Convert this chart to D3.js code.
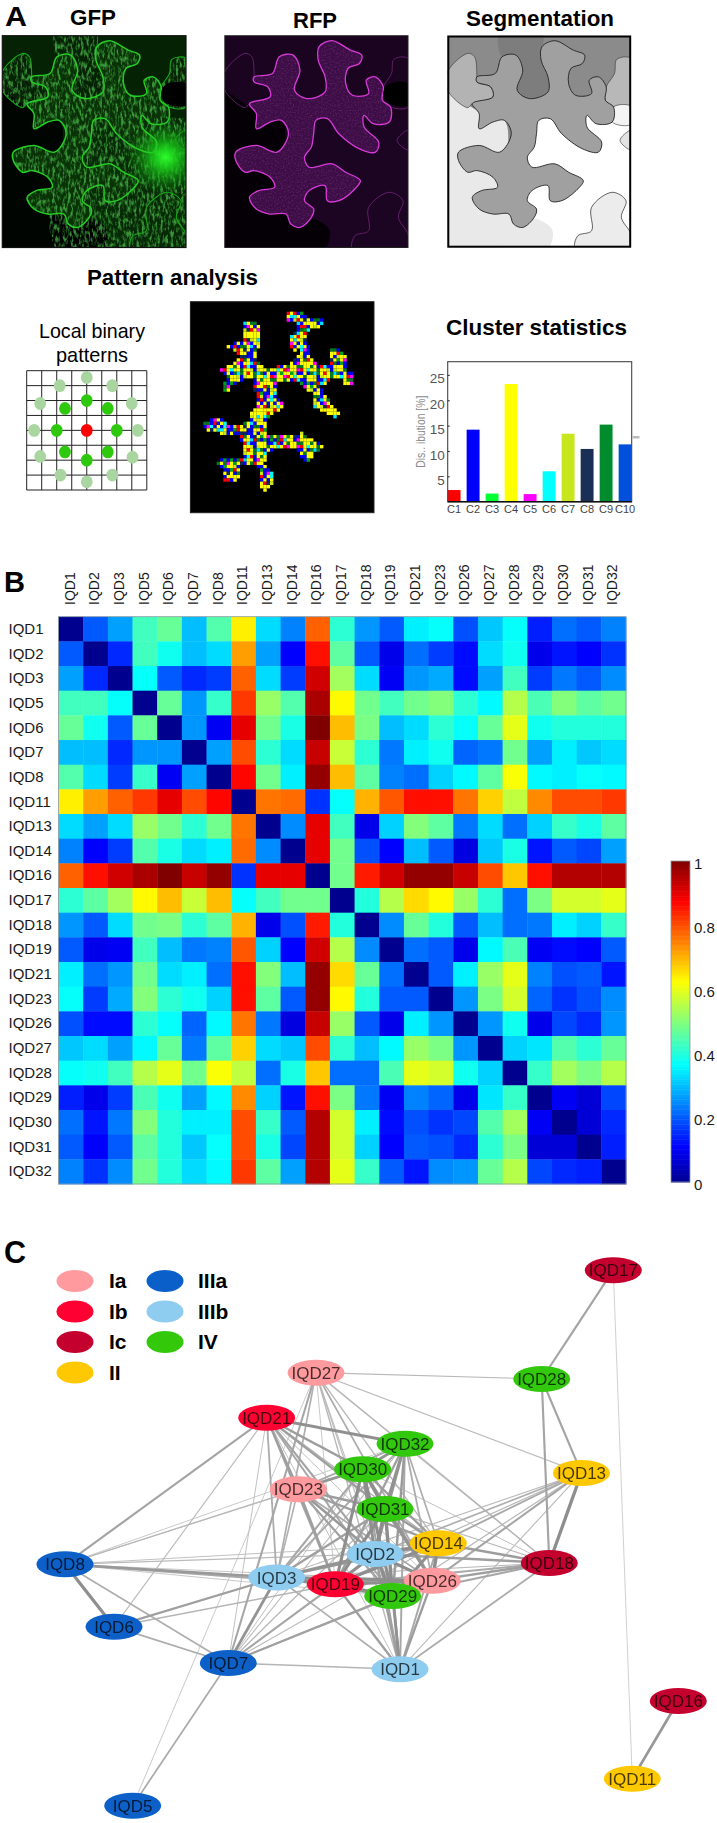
<!DOCTYPE html>
<html><head><meta charset="utf-8">
<script src="https://cdn.jsdelivr.net/npm/d3@7"></script>
<style>
html,body{margin:0;padding:0;background:#fff}
svg{display:block}
text{font-family:"Liberation Sans",Arial,sans-serif}
</style></head><body>
<svg id="fig" width="717" height="1823" viewBox="0 0 717 1823"></svg>
<script>
// ---------- DATA ----------
const genes = ["IQD1","IQD2","IQD3","IQD5","IQD6","IQD7","IQD8","IQD11","IQD13","IQD14","IQD16","IQD17","IQD18","IQD19","IQD21","IQD23","IQD26","IQD27","IQD28","IQD29","IQD30","IQD31","IQD32"];
const distance = [
[0,.2,.27,.43,.47,.3,.45,.64,.33,.24,.78,.41,.26,.2,.35,.37,.19,.31,.37,.14,.22,.2,.24],
[.2,0,.15,.43,.38,.3,.33,.72,.27,.11,.86,.46,.2,.09,.22,.17,.12,.33,.38,.09,.13,.11,.16],
[.27,.15,0,.37,.2,.15,.17,.78,.33,.17,.92,.53,.33,.1,.26,.28,.12,.27,.43,.17,.23,.2,.25],
[.43,.43,.37,0,.47,.26,.42,.82,.52,.45,.96,.63,.48,.43,.48,.5,.41,.36,.55,.44,.5,.46,.48],
[.47,.38,.2,.47,0,.26,.1,.9,.48,.39,1,.69,.49,.3,.33,.41,.37,.47,.6,.38,.4,.4,.4],
[.3,.3,.15,.26,.26,0,.27,.8,.41,.33,.93,.57,.41,.23,.35,.38,.21,.23,.48,.27,.35,.31,.33],
[.45,.33,.17,.42,.1,.27,0,.87,.48,.35,.98,.69,.46,.24,.22,.32,.36,.46,.62,.36,.35,.37,.36],
[.64,.72,.78,.82,.9,.8,.87,0,.76,.77,.16,.37,.7,.79,.86,.86,.76,.67,.56,.74,.8,.8,.82],
[.33,.27,.33,.52,.48,.41,.48,.76,0,.25,.9,.43,.09,.32,.5,.46,.23,.33,.22,.32,.42,.39,.46],
[.24,.11,.17,.45,.39,.33,.35,.77,.25,0,.9,.48,.19,.11,.3,.2,.08,.31,.39,.13,.2,.18,.27],
[.78,.86,.92,.96,1,.93,.98,.16,.9,.9,0,.48,.85,.92,.98,.98,.93,.8,.68,.86,.95,.95,.95],
[.41,.46,.53,.63,.69,.57,.69,.37,.43,.48,.48,0,.4,.55,.66,.63,.52,.41,.22,.49,.58,.58,.6],
[.26,.2,.33,.48,.49,.41,.46,.7,.09,.19,.85,.4,0,.25,.47,.4,.2,.3,.22,.23,.35,.32,.42],
[.2,.09,.1,.43,.3,.23,.24,.79,.32,.11,.92,.55,.25,0,.22,.2,.09,.36,.44,.1,.12,.11,.2],
[.35,.22,.26,.48,.33,.35,.22,.86,.5,.3,.98,.66,.47,.22,0,.2,.35,.52,.6,.24,.19,.2,.13],
[.37,.17,.28,.5,.41,.38,.32,.86,.46,.2,.98,.63,.4,.2,.2,0,.26,.49,.58,.21,.16,.19,.25],
[.19,.12,.12,.41,.37,.21,.36,.76,.23,.08,.93,.52,.2,.09,.35,.26,0,.26,.38,.09,.18,.15,.26],
[.31,.33,.27,.36,.47,.23,.46,.67,.33,.31,.8,.41,.3,.36,.52,.49,.26,0,.32,.34,.45,.41,.47],
[.37,.38,.43,.55,.6,.48,.62,.56,.22,.39,.68,.22,.22,.44,.6,.58,.38,.32,0,.42,.53,.49,.55],
[.14,.09,.17,.44,.38,.27,.36,.74,.32,.13,.86,.49,.23,.1,.24,.21,.09,.34,.42,0,.1,.07,.18],
[.22,.13,.23,.5,.4,.35,.35,.8,.42,.2,.95,.58,.35,.12,.19,.16,.18,.45,.53,.1,0,.07,.15],
[.2,.11,.2,.46,.4,.31,.37,.8,.39,.18,.95,.58,.32,.11,.2,.19,.15,.41,.49,.07,.07,0,.14],
[.24,.16,.25,.48,.4,.33,.36,.82,.46,.27,.95,.6,.42,.2,.13,.25,.26,.47,.55,.18,.15,.14,0]
];
const jetStops = [0,.11,.365,.625,.875,1];
const jetColors = ["#00008f","#0000ff","#00ffff","#ffff00","#ff0000","#800000"];
const colorbarTicks = [0,.2,.4,.6,.8,1];

const clusters = ["C1","C2","C3","C4","C5","C6","C7","C8","C9","C10"];
const clusterValues = [2.3,14.2,1.6,23.2,1.5,6,13.4,10.4,15.2,11.3];
const clusterColors = ["#ff0000","#0000ff","#00ff33","#ffff00","#ff00ff","#00ffff","#c8e61e","#1a2f55","#008c2d","#0050dc"];
const clusterTicks = [5,10,15,20,25];

const groups = ["Ia","Ib","Ic","II","IIIa","IIIb","IV"];
const groupColors = ["#ff9a9e","#ff0033","#c4002f","#ffc800","#0a60c8","#8fcdf0","#33c80a"];
const nodeNames = ["IQD3","IQD19","IQD26","IQD29","IQD2","IQD14","IQD18","IQD13","IQD28","IQD17","IQD16","IQD11","IQD1","IQD7","IQD6","IQD8","IQD5","IQD23","IQD31","IQD30","IQD32","IQD21","IQD27"];
const nodeGroups = ["IIIb","Ib","Ia","IV","IIIb","II","Ic","II","IV","Ic","Ic","II","IIIb","IIIa","IIIa","IIIa","IIIa","Ia","IV","IV","IV","Ib","Ia"];
const nodeX = [276.7,335.3,432.3,392.7,375,438.3,549.3,581.5,541.7,613.3,678.3,632.3,400,228.3,114,65,132.7,298.3,385,362.7,405,266.7,316];
const nodeY = [1577.5,1584.3,1580.7,1596,1554,1543.3,1563,1473,1379,1270.2,1701,1778.7,1669.3,1663,1626.7,1564.3,1805.7,1489.3,1509,1469.3,1443.7,1417.7,1372.7];
const edgeCutoff = 0.365;
const extraEdges = [["IQD32","IQD18",.36],["IQD17","IQD11",.37]];

// Traces of the micrograph panels (reference crop coordinates)
const mainCell = [[1040,230],[1080,220],[1095,170],[1125,165],[1140,210],[1128,270],[1155,295],[1195,275],[1195,230],[1180,180],[1182,140],[1210,122],[1250,150],[1275,165],[1270,190],[1245,205],[1240,250],[1255,285],[1290,280],[1285,240],[1305,230],[1322,260],[1320,300],[1338,320],[1335,365],[1300,370],[1280,345],[1280,380],[1312,425],[1305,455],[1270,445],[1225,400],[1200,355],[1175,360],[1170,400],[1165,440],[1150,470],[1160,500],[1210,490],[1240,515],[1272,540],[1260,565],[1225,600],[1200,600],[1195,555],[1160,570],[1150,600],[1170,625],[1165,650],[1140,680],[1120,670],[1110,640],[1075,640],[1045,625],[1030,590],[1050,570],[1085,560],[1075,530],[1040,510],[1020,515],[1000,480],[1000,455],[1045,435],[1090,455],[1115,400],[1100,360],[1075,365],[1045,385],[1045,340],[1030,310],[1075,290],[1070,260],[1040,245]];
const leftCell = [[976,215],[1020,160],[1035,170],[1040,225],[1040,245],[1070,260],[1075,290],[1030,310],[1020,322],[976,270]];
const rightCell = [[1376,175],[1345,178],[1340,220],[1322,260],[1320,300],[1338,320],[1376,320]];
const midDark = [[1095,170],[1125,165],[1140,210],[1128,270],[1155,295],[1195,275],[1195,230],[1180,180],[1182,100],[1090,100]];
const smallCell = [[1338,320],[1376,318],[1376,372],[1335,365]];
const edgeCell = [[1376,390],[1352,420],[1376,448]];
const cornerCell = [[1255,745],[1260,705],[1290,690],[1290,620],[1335,575],[1365,600],[1355,650],[1376,700],[1376,745]];
const lightRegion = [[960,270],[1040,330],[1100,360],[1110,460],[1130,660],[1170,655],[1205,690],[1185,760],[960,760]];
const whiteRegion = [[1175,350],[1280,340],[1340,350],[1400,372],[1400,760],[1100,760],[1100,470]];
const notch = [[1330,255],[1376,250],[1376,315],[1335,310],[1322,285]];
const patternShape = [[295,32],[335,32],[350,50],[400,55],[395,80],[365,85],[355,100],[355,130],[360,170],[385,195],[425,195],[425,150],[445,140],[465,165],[470,210],[490,220],[485,255],[465,250],[455,235],[420,240],[395,260],[400,280],[425,310],[455,340],[440,355],[420,345],[375,320],[370,280],[345,265],[320,245],[285,245],[265,250],[265,290],[285,320],[270,330],[245,345],[230,355],[230,400],[260,410],[320,405],[335,395],[350,415],[390,425],[400,445],[375,460],[360,490],[340,480],[325,450],[260,445],[230,460],[225,490],[240,505],[255,525],[250,545],[225,575],[210,560],[205,500],[180,490],[155,495],[155,520],[140,545],[105,545],[100,505],[80,495],[100,475],[130,480],[160,470],[165,440],[150,410],[110,405],[80,395],[60,400],[40,385],[40,365],[90,350],[120,375],[150,375],[180,360],[185,335],[205,310],[195,270],[190,240],[160,240],[125,255],[120,275],[105,275],[100,255],[115,235],[90,205],[130,195],[150,175],[135,150],[105,145],[135,125],[160,130],[165,70],[200,70],[215,95],[205,150],[205,180],[230,205],[260,200],[305,190],[325,165],[335,130],[315,155],[295,125],[315,95],[320,65],[290,60]];
const patternPalette = ["#ffff00","#ffff00","#0000ff","#ffff00","#007a20","#00ffff","#ffff00","#0000e0","#ffff00","#00a020","#0000ff","#0a2a60","#ffff00","#0000ff","#c8e61e","#ffff00","#00e0ff","#ff00ff","#ffff00","#007a20","#0000ff","#ffff00","#ff0000"];
const lbpInner = [[-2,0],[2,0],[0,-2],[0,2],[-1.45,-1.47],[1.4,-1.47],[-1.45,1.45],[1.4,1.45]];
const lbpOuter = [[-3.5,0],[3.4,0],[0,-3.55],[0,3.45],[-1.8,-3],[1.7,-3],[-3.1,-1.8],[3,-1.8],[-3.1,1.75],[3.05,1.8],[-1.75,3],[1.7,3]];
const lbpGrid = d3.range(9);

// ---------- SETUP ----------
const svg = d3.select("#fig");
const defs = svg.append("defs");
const txt = (g,s,x,y,o={}) => {
  const size=o.size||22;
  const t = g.append("text").attr("x",x).attr("y",y+size*.358).text(s)
    .attr("font-size",size).attr("font-weight",o.weight||"normal").attr("fill",o.fill||"#000");
  if(o.anchor) t.attr("text-anchor",o.anchor);
  if(o.len) t.attr("textLength",o.len).attr("lengthAdjust","spacingAndGlyphs");
  return t;
};
const softer = defs.append("filter").attr("id","soft2").attr("x","-5%").attr("y","-5%").attr("width","110%").attr("height","110%");
softer.append("feGaussianBlur").attr("stdDeviation",.3);
const blur = defs.append("filter").attr("id","soft").attr("x","-5%").attr("y","-5%").attr("width","110%").attr("height","110%");
blur.append("feGaussianBlur").attr("stdDeviation",.5);

function fiber(id,freq,seed,r,g,b,gain,off){
  const f = defs.append("filter").attr("id",id).attr("x",0).attr("y",0).attr("width",1).attr("height",1);
  f.append("feTurbulence").attr("type","fractalNoise").attr("baseFrequency",freq).attr("numOctaves",3).attr("seed",seed);
  f.append("feColorMatrix").attr("type","matrix").attr("values",`0 0 0 0 ${r} 0 0 0 0 ${g} 0 0 0 0 ${b} ${gain} 0 0 0 ${off}`);
  f.append("feGaussianBlur").attr("stdDeviation",.35);
}
fiber("fibG","0.38 0.16",3,.08,.55,.08,3.4,-1.5);
fiber("fibM","0.6 0.6",5,.7,.2,.7,2.5,-1.15);

// ---------- PANEL A ----------
const A = svg.append("g");
txt(A,"A",5,16,{size:28,weight:"bold",len:22});
txt(A,"GFP",70,17,{weight:"bold",len:46});
txt(A,"RFP",293,20,{weight:"bold",len:44});
txt(A,"Segmentation",466,18,{weight:"bold",len:148});

function boxScales(left,right,top=35.7,bottom=247.5){
  return {x:d3.scaleLinear([976,1376],[left,right]), y:d3.scaleLinear([107,740],[top,bottom])};
}
function pathFor(s,curve=true){
  return d3.line(d=>s.x(d[0]),d=>s.y(d[1])).curve(curve?d3.curveCatmullRomClosed.alpha(.5):d3.curveLinearClosed);
}
function clipBox(id,l,r,t=35.7,b=247.5){
  defs.append("clipPath").attr("id",id).append("rect").attr("x",l).attr("y",t).attr("width",r-l).attr("height",b-t);
}
// GFP
{
  const l=2.3,r=186,s=boxScales(l,r),p=pathFor(s);
  clipBox("cGFP",l,r);
  defs.append("clipPath").attr("id","cGFPtex").selectAll("path").data([mainCell,whiteRegion,midDark,rightCell,leftCell,cornerCell]).join("path").attr("d",p);
  const grad = defs.append("radialGradient").attr("id","hot");
  grad.append("stop").attr("offset",0).attr("stop-color","#2cff2c");
  grad.append("stop").attr("offset",.3).attr("stop-color","#1bd01b").attr("stop-opacity",.85);
  grad.append("stop").attr("offset",1).attr("stop-color","#0a7a0a").attr("stop-opacity",0);
  const g = A.append("g").attr("clip-path","url(#cGFP)");
  g.append("rect").attr("x",l).attr("y",35.7).attr("width",r-l).attr("height",211.8).attr("fill","#062205");
  g.append("path").attr("d",p(whiteRegion)).attr("fill","#072a06");
  g.append("path").attr("d",p(lightRegion)).attr("fill","#010501");
  g.append("path").attr("d",p(mainCell)).attr("fill","#093207");
  g.append("g").attr("clip-path","url(#cGFPtex)").append("rect").attr("x",l).attr("y",35.7).attr("width",r-l).attr("height",211.8).attr("filter","url(#fibG)").attr("opacity",.7);
  g.append("ellipse").attr("cx",s.x(1331)).attr("cy",s.y(470)).attr("rx",40).attr("ry",38).attr("fill","url(#hot)");
  g.selectAll("path.o").data([leftCell,rightCell,cornerCell,edgeCell]).join("path").attr("class","o").attr("d",p).attr("fill","none").attr("stroke","#12a814").attr("stroke-width",1.1);
  g.append("path").attr("d",p(mainCell)).attr("fill","none").attr("stroke","#24cc24").attr("stroke-width",1.5);
  g.append("path").attr("d",p(notch)).attr("fill","#000");
  A.append("rect").attr("x",l).attr("y",35.7).attr("width",r-l).attr("height",211.8).attr("fill","none").attr("stroke","#111").attr("stroke-width",1.2);
}
// RFP
{
  const l=224.8,r=408,s=boxScales(l,r),p=pathFor(s);
  clipBox("cRFP",l,r);
  defs.append("clipPath").attr("id","cRFPtex").append("path").attr("d",p(mainCell));
  const g = A.append("g").attr("clip-path","url(#cRFP)");
  g.append("rect").attr("x",l).attr("y",35.7).attr("width",r-l).attr("height",211.8).attr("fill","#1a0420");
  g.append("path").attr("d",p(whiteRegion)).attr("fill","#1c0523");
  g.append("path").attr("d",p(lightRegion)).attr("fill","#040006");
  g.append("path").attr("d",p(mainCell)).attr("fill","#3d0d46");
  g.append("g").attr("clip-path","url(#cRFPtex)").append("rect").attr("x",l).attr("y",35.7).attr("width",r-l).attr("height",211.8).attr("filter","url(#fibM)").attr("opacity",.2);
  g.selectAll("path.o").data([leftCell,rightCell,cornerCell,edgeCell]).join("path").attr("class","o").attr("d",p).attr("fill","none").attr("stroke","#6a2270").attr("stroke-width",.9);
  g.append("path").attr("d",p(mainCell)).attr("fill","none").attr("stroke","#d83ad8").attr("stroke-width",1.3);
  g.append("path").attr("d",p(notch)).attr("fill","#000");
  A.append("rect").attr("x",l).attr("y",35.7).attr("width",r-l).attr("height",211.8).attr("fill","none").attr("stroke","#222").attr("stroke-width",1);
}
// Segmentation
{
  const l=447.5,r=631,s=boxScales(l,r),p=pathFor(s);
  clipBox("cSeg",l,r);
  const g = A.append("g").attr("clip-path","url(#cSeg)");
  g.append("rect").attr("x",l).attr("y",35.7).attr("width",r-l).attr("height",211.8).attr("fill","#8b8b8b");
  g.append("path").attr("d",p(midDark)).attr("fill","#7d7d7d");
  g.append("path").attr("d",p(whiteRegion)).attr("fill","#ffffff");
  g.append("path").attr("d",p(lightRegion)).attr("fill","#e9e9e9");
  g.append("path").attr("d",p(leftCell)).attr("fill","#b3b3b3").attr("stroke","#333").attr("stroke-width",.6);
  g.append("path").attr("d",p(rightCell)).attr("fill","#b8b8b8").attr("stroke","#333").attr("stroke-width",.6);
  g.append("path").attr("d",p(smallCell)).attr("fill","#f4f4f4").attr("stroke","#333").attr("stroke-width",.6);
  g.append("path").attr("d",p(edgeCell)).attr("fill","#e2e2e2").attr("stroke","#333").attr("stroke-width",.6);
  g.append("path").attr("d",p(cornerCell)).attr("fill","#ececec").attr("stroke","#222").attr("stroke-width",.7);
  g.append("path").attr("d",p(mainCell)).attr("fill","#a0a0a0").attr("stroke","#222").attr("stroke-width",.9);
  A.append("rect").attr("x",l+.8).attr("y",36.5).attr("width",r-l-1.6).attr("height",210.2).attr("fill","none").attr("stroke","#000").attr("stroke-width",2);
}

// Row 2 of panel A
txt(A,"Pattern analysis",87,277,{weight:"bold",len:171});
txt(A,"Local binary",39,330,{size:21,len:106});
txt(A,"patterns",56,354,{size:21,len:72});
txt(A,"Cluster statistics",446,327,{weight:"bold",len:181});
// LBP grid
{
  const gx=d3.scaleLinear([0,8],[26.7,146.8]), gy=d3.scaleLinear([0,8],[370.7,490]);
  const g=A.append("g").attr("filter","url(#soft2)");
  g.selectAll("line.v").data(lbpGrid).join("line").attr("class","v").attr("x1",gx).attr("x2",gx).attr("y1",gy(0)).attr("y2",gy(8)).attr("stroke","#222").attr("stroke-width",1);
  g.selectAll("line.h").data(lbpGrid).join("line").attr("class","h").attr("y1",gy).attr("y2",gy).attr("x1",gx(0)).attr("x2",gx(8)).attr("stroke","#222").attr("stroke-width",1);
  const dot=(data,col)=>g.append("g").selectAll("ellipse").data(data).join("ellipse").attr("cx",d=>gx(4+d[0])).attr("cy",d=>gy(4+d[1])).attr("rx",5.9).attr("ry",6.4).attr("fill",col);
  dot(lbpOuter,"#a9d6a0"); dot(lbpInner,"#2fc90f"); dot([[0,0]],"#ff0000");
}
// Pattern image
{
  const l=190.4,r=374,t=301.7,b=512.7;
  A.append("rect").attr("x",l).attr("y",t).attr("width",r-l).attr("height",b-t).attr("fill","#000").attr("stroke","#222");
  const px=d3.scaleLinear([0,555],[190,375]), py=d3.scaleLinear([0,645],[300,515]);
  const pitch=3.33, cols=d3.range(10,500,10), rows=d3.range(25,585,10);
  const cells=[];
  rows.forEach((ry,j)=>cols.forEach((cx,i)=>{
    if(d3.polygonContains(patternShape,[cx+5,ry+5])) cells.push({cx,ry,c:patternPalette[((i*i*7+j*j*13+i*j*5+i*3+j)%patternPalette.length)]});
  }));
  A.append("g").attr("filter","url(#soft)").selectAll("rect").data(cells).join("rect")
    .attr("x",d=>px(d.cx)).attr("y",d=>py(d.ry)).attr("width",pitch+.05).attr("height",pitch+.05).attr("fill",d=>d.c);
}
// Bar chart
{
  const x=d3.scaleBand(clusters,[444.6,634.6]).paddingInner(.32).paddingOuter(.16);
  const y=d3.scaleLinear([0,27.6],[501.7,361.7]);
  const g=A.append("g");
  g.selectAll("rect").data(clusterValues).join("rect").attr("x",(d,i)=>x(clusters[i])).attr("width",x.bandwidth())
    .attr("y",d=>y(d)).attr("height",d=>y(0)-y(d)).attr("fill",(d,i)=>clusterColors[i]);
  g.append("rect").attr("x",447.7).attr("y",361.7).attr("width",184).attr("height",140).attr("fill","none").attr("stroke","#444").attr("stroke-width",1.1);
  g.append("line").attr("x1",447.7).attr("x2",631.7).attr("y1",501.7).attr("y2",501.7).attr("stroke","#111").attr("stroke-width",1.6);
  const ax=g.append("g").attr("transform","translate(447.7,0)").call(d3.axisLeft(y).tickValues(clusterTicks).tickSize(-2).tickPadding(3));
  ax.select(".domain").remove();
  ax.selectAll("text").attr("font-size",13.5).attr("font-family","Liberation Sans").attr("fill","#555").attr("dy",".6em");
  ax.selectAll("line").attr("stroke","#222");
  const bx=g.append("g").attr("transform","translate(0,501.7)").call(d3.axisBottom(x).tickSize(0).tickPadding(4));
  bx.select(".domain").remove();
  bx.selectAll("text").attr("font-size",11).attr("font-family","Liberation Sans").attr("fill","#444");
  g.append("text").attr("transform","translate(422,431.7) rotate(-90)").attr("text-anchor","middle").attr("dominant-baseline","middle").attr("font-size",12).attr("fill","#8a8a8a").attr("textLength",72).attr("lengthAdjust","spacingAndGlyphs").text("Dis.. ibution [%]");
  g.append("rect").attr("x",632.5).attr("y",436).attr("width",7).attr("height",2.5).attr("fill","#bbb");
}

// ---------- PANEL B ----------
const B = svg.append("g");
txt(B,"B",4,581,{size:30,weight:"bold",len:21});
const hx=d3.scaleBand(genes,[58.5,626]), hy=d3.scaleBand(genes,[616.7,1184]);
const jet=d3.scaleLinear(jetStops,jetColors);
const cells=distance.flatMap((row,i)=>row.map((v,j)=>({r:genes[i],c:genes[j],v})));
B.append("g").selectAll("rect").data(cells).join("rect")
  .attr("x",d=>hx(d.c)).attr("y",d=>hy(d.r)).attr("width",hx.bandwidth()+.4).attr("height",hy.bandwidth()+.4).attr("fill",d=>jet(d.v));
B.append("rect").attr("x",58.5).attr("y",616.7).attr("width",567.5).attr("height",567.3).attr("fill","none").attr("stroke","#8b9aa0").attr("stroke-width",.8);
const topAx=B.append("g").attr("transform","translate(0,616.7)").call(d3.axisTop(hx).tickSize(0).tickPadding(11));
topAx.select(".domain").remove();
topAx.selectAll("text").attr("font-size",14).attr("font-family","Liberation Sans").attr("fill","#1a1a1a")
  .attr("text-anchor","start").attr("dy",null).attr("dominant-baseline","middle").attr("x",0).attr("y",0)
  .attr("transform","translate(0,-11.7) rotate(-90)");
const leftAx=B.append("g").attr("transform","translate(58.5,0)").call(d3.axisLeft(hy).tickSize(0));
leftAx.select(".domain").remove();
leftAx.selectAll("text").attr("font-size",15).attr("font-family","Liberation Sans").attr("fill","#1a1a1a").attr("text-anchor","start").attr("x",-50);
// Colourbar
{
  const cy=d3.scaleLinear([0,1],[1182,861]);
  const steps=d3.range(0,1,1/128);
  B.append("g").selectAll("rect").data(steps).join("rect").attr("x",671).attr("width",19)
    .attr("y",d=>cy(d+1/128)).attr("height",d=>cy(d)-cy(d+1/128)+.5).attr("fill",d=>jet(d+1/256));
  B.append("rect").attr("x",671).attr("y",861).attr("width",19).attr("height",321).attr("fill","none").attr("stroke","#8b9aa0").attr("stroke-width",.8);
  const ax=B.append("g").attr("transform","translate(690,2.3)").call(d3.axisRight(cy).tickValues(colorbarTicks).tickSize(0).tickPadding(4).tickFormat(d3.format("~g")));
  ax.select(".domain").remove();
  ax.selectAll("text").attr("font-size",15).attr("font-family","Liberation Sans").attr("fill","#1a1a1a");
}

// ---------- PANEL C ----------
const C = svg.append("g");
txt(C,"C",4,1252,{size:31,weight:"bold",len:22});
{
  const groupColor=d3.scaleOrdinal(groups,groupColors);
  const legX=d3.scalePoint(["l","r"],[75,165]), legY=d3.scaleLinear([0,3],[1281,1372.5]);
  const legend=groups.map((g,i)=>({g,col:i<4?"l":"r",row:i<4?i:i-4}));
  const lg=C.append("g").attr("class","legend");
  lg.selectAll("ellipse").data(legend).join("ellipse").attr("cx",d=>legX(d.col)).attr("cy",d=>legY(d.row)).attr("rx",18.5).attr("ry",11).attr("fill",d=>groupColor(d.g));
  lg.selectAll("text").data(legend).join("text").attr("x",d=>legX(d.col)+(d.col=="l"?34:33)).attr("y",d=>legY(d.row)+7.3).attr("font-size",21).attr("font-weight","bold").text(d=>d.g);

  const pos=Object.fromEntries(nodeNames.map((n,i)=>[n,{x:nodeX[i],y:nodeY[i],g:nodeGroups[i],n}]));
  const edges=[];
  genes.forEach((a,i)=>genes.forEach((b,j)=>{ if(i<j && distance[i][j]<=edgeCutoff) edges.push({a,b,v:distance[i][j]}); }));
  extraEdges.forEach(e=>edges.push({a:e[0],b:e[1],v:e[2]}));
  const w=d3.scaleLinear([.08,.37],[3.4,.8]).clamp(true);
  const col=d3.scaleLinear([.12,.37],["#8e8e8e","#c4c4c4"]).clamp(true);
  edges.sort((p,q)=>q.v-p.v);
  const net=C.append("g").attr("filter","url(#soft2)");
  net.append("g").selectAll("line").data(edges).join("line")
    .attr("x1",d=>pos[d.a].x).attr("y1",d=>pos[d.a].y).attr("x2",d=>pos[d.b].x).attr("y2",d=>pos[d.b].y)
    .attr("stroke",d=>col(d.v)).attr("stroke-width",d=>w(d.v));
  const nodes=net.append("g").selectAll("g").data(nodeNames.map(n=>pos[n])).join("g").attr("transform",d=>`translate(${d.x},${d.y})`);
  nodes.append("ellipse").attr("rx",28.5).attr("ry",13).attr("fill",d=>groupColor(d.g));
  nodes.append("text").attr("text-anchor","middle").attr("y",6).attr("font-size",17).attr("fill","#000").attr("fill-opacity",.72).text(d=>d.n);
}
</script>
</body></html>
